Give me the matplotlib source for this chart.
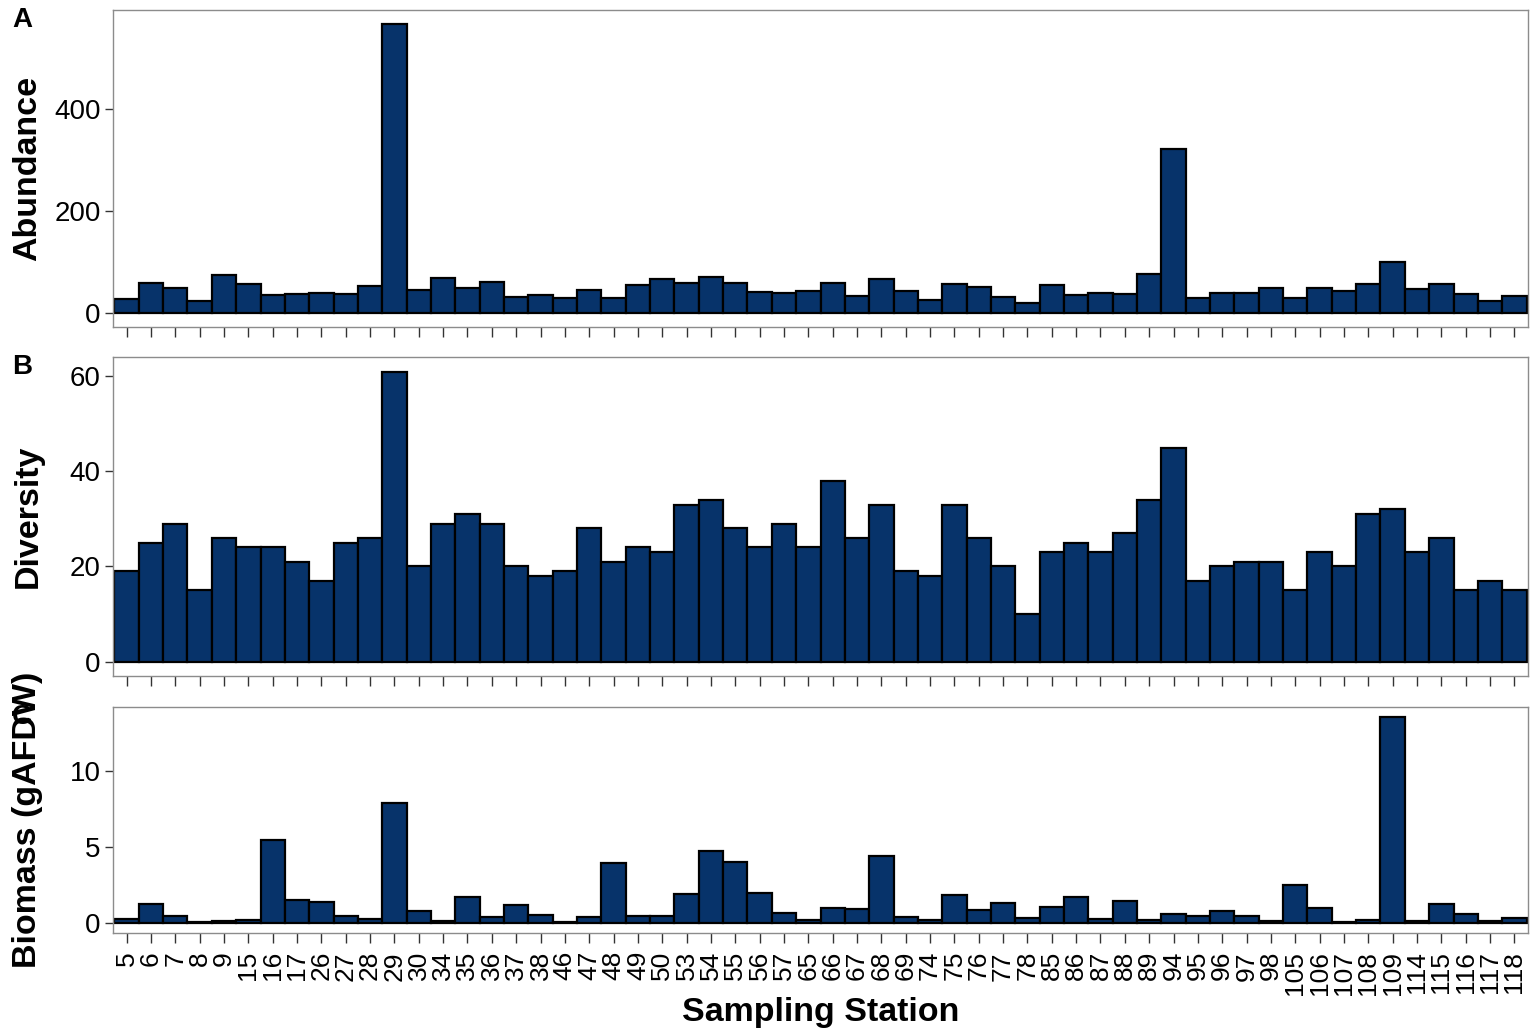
import matplotlib
matplotlib.use("Agg")
import matplotlib.pyplot as plt
import numpy as np

plt.rcParams['font.family'] = ['Liberation Sans', 'DejaVu Sans']

# sampling stations (x categories)
stations = ['5', '6', '7', '8', '9', '15', '16', '17', '26', '27', '28', '29', '30',
            '34', '35', '36', '37', '38', '46', '47', '48', '49', '50', '53', '54',
            '55', '56', '57', '65', '66', '67', '68', '69', '74', '75', '76', '77',
            '78', '85', '86', '87', '88', '89', '94', '95', '96', '97', '98', '105',
            '106', '107', '108', '109', '114', '115', '116', '117', '118']

abundance = [26, 58, 49, 23, 73, 56, 34, 36, 38, 36, 53, 566, 45,
             67, 49, 61, 31, 35, 28, 45, 29, 54, 65, 59, 69,
             59, 40, 38, 43, 58, 32, 66, 43, 25, 57, 50, 31,
             19, 54, 35, 38, 37, 75, 322, 29, 38, 38, 49, 28,
             48, 43, 56, 99, 47, 56, 36, 22, 33]

diversity = [19, 25, 29, 15, 26, 24, 24, 21, 17, 25, 26, 61, 20,
             29, 31, 29, 20, 18, 19, 28, 21, 24, 23, 33, 34,
             28, 24, 29, 24, 38, 26, 33, 19, 18, 33, 26, 20,
             10, 23, 25, 23, 27, 34, 45, 17, 20, 21, 21, 15,
             23, 20, 31, 32, 23, 26, 15, 17, 15]

biomass = [0.24, 1.22, 0.46, 0.06, 0.1, 0.15, 5.46, 1.48, 1.33, 0.41, 0.26, 7.86, 0.76,
           0.1, 1.66, 0.37, 1.16, 0.52, 0.03, 0.37, 3.95, 0.44, 0.41, 1.92, 4.69,
           3.97, 1.97, 0.61, 0.17, 0.98, 0.92, 4.41, 0.35, 0.2, 1.81, 0.81, 1.27,
           0.28, 1.03, 1.7, 0.24, 1.4, 0.15, 0.55, 0.41, 0.79, 0.46, 0.1, 2.47,
           0.96, 0.07, 0.17, 13.5, 0.13, 1.2, 0.57, 0.13, 0.33]

panels = [
    (abundance, 'Abundance', [0, 200, 400], 'A'),
    (diversity, 'Diversity', [0, 20, 40, 60], 'B'),
    (biomass, 'Biomass (gAFDW)', [0, 5, 10], 'C'),
]

W, H = 1533, 1034
fig = plt.figure(figsize=(W / 100, H / 100), dpi=100)

# axes boxes in pixels: (top, bottom)
boxes = [(10, 327), (357, 676), (707, 933)]
left_px, right_px = 113, 1528

bar_color = '#07336a'
frame_color = '#8c8c8c'
x = np.arange(len(stations))

for i, (vals, ylab, yticks, letter) in enumerate(panels):
    top, bot = boxes[i]
    ax = fig.add_axes([left_px / W, 1 - bot / H, (right_px - left_px) / W, (bot - top) / H])
    ax.bar(x, vals, width=1.0, color=bar_color, edgecolor='black', linewidth=1.6)
    vmax = max(vals)
    ax.set_ylim(-0.05 * vmax, 1.05 * vmax)
    ax.set_xlim(-0.56, len(stations) - 0.44)
    ax.set_yticks(yticks)
    ax.set_xticks(x)
    ax.tick_params(axis='y', labelsize=20, length=6, width=1.0, color='#333333', pad=3)
    ax.tick_params(axis='x', length=7, width=1.0, color='#333333', pad=6)
    for s in ax.spines.values():
        s.set_color(frame_color)
        s.set_linewidth(1.0)
    if i < 2:
        ax.set_xticklabels([])
    else:
        ax.set_xticklabels(stations, rotation=90, fontsize=19)
    cy = 1 - (top + bot) / 2 / H
    fig.text(28 / W, cy, ylab, rotation=90, ha='center', va='center',
             fontsize=24.5, fontweight='bold')
    fig.text(22 / W, 1 - (top + 10) / H, letter, ha='center', va='center',
             fontsize=20, fontweight='bold')

fig.text((left_px + right_px) / 2 / W, 1 - 1013 / H, 'Sampling Station',
         ha='center', va='center', fontsize=24.5, fontweight='bold')

fig.savefig('out.png', dpi=100, facecolor='white')
